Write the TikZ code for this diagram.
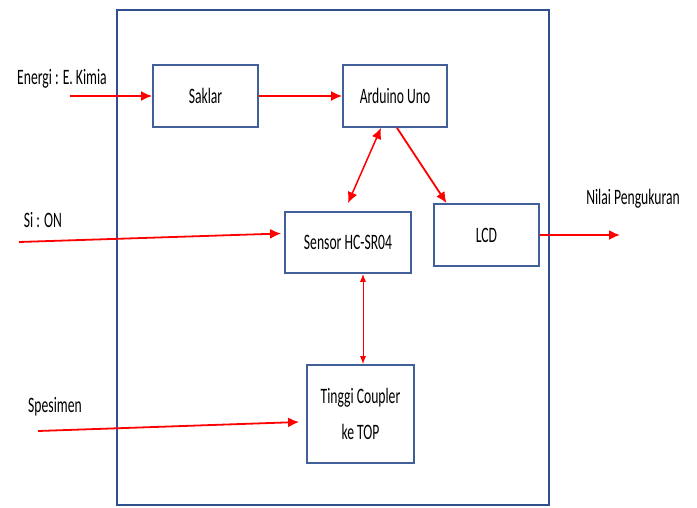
\documentclass[tikz,border=0pt]{standalone}
\usepackage{fontspec}
\setmainfont{Carlito}[FakeStretch=0.62]
\usepackage{xcolor}
\usetikzlibrary{arrows.meta,positioning}

\definecolor{boxblue}{HTML}{41609A}
\definecolor{frameblue}{HTML}{2F4F8F}

\begin{document}
\begin{tikzpicture}[
    x=1pt,y=-1pt,
    font=\fontsize{22}{26}\selectfont,
    p/.style={draw=boxblue, line width=1.8pt, align=center, inner sep=2pt,
              fill=white},
    a/.style={-{Latex[length=11pt,width=10pt]}, red, line width=1.8pt},
    aa/.style={{Latex[length=11pt,width=10pt]}-{Latex[length=11pt,width=10pt]}, red, line width=1.5pt},
    lbl/.style={inner sep=0pt}
]
\useasboundingbox (0,0) rectangle (697,507);
% outer frame
\draw[frameblue, line width=1.2pt] (117,10) rectangle (549,505);

% blocks inside the frame
\node[p, minimum width=105pt, minimum height=62pt] (saklar) at (205.5,96) {Saklar};
\node[p, minimum width=104pt, minimum height=62pt] (arduino) at (395,96) {Arduino Uno};
\node[p, minimum width=126pt, minimum height=61pt] (sensor) at (348,242.5) {Sensor HC-SR04};
\node[p, minimum width=105pt, minimum height=62pt] (lcd) at (486.5,235) {LCD};
\node[p, minimum width=107pt, minimum height=98pt] (tinggi) at (360.5,414) {Tinggi Coupler\\[10pt]ke TOP};

% inputs and output labels
\node[lbl] (energi) at (62,79) {Energi : E. Kimia};
\node[lbl] (si) at (43,220) {Si : ON};
\node[lbl] (spesimen) at (55,407) {Spesimen};
\node[lbl] (nilai) at (633,199) {Nilai Pengukuran};

\coordinate (energiin) at (70,96);
\coordinate (siin) at (19,242);
\coordinate (spesin) at (38,431);
\coordinate (nilaiout) at (620,235);

\draw[a] (energiin) -- (saklar.west);
\draw[a] (saklar) -- (arduino);
\draw[a] (siin) -- ([xshift=-3pt,yshift=9pt]sensor.west);
\draw[a] (spesin) -- ([xshift=-7pt,yshift=-8pt]tinggi.west);
\draw[aa] ([xshift=-14pt]arduino.south) -- ([yshift=8pt]sensor.north);
\draw[a] ([xshift=2pt]arduino.south) -- ([xshift=-40pt]lcd.north);
\draw[{Latex[length=8pt,width=6pt]}-{Latex[length=8pt,width=6pt]}, red, line width=0.8pt]
    ([xshift=15pt]sensor.south) -- ([xshift=15pt]sensor.south |- tinggi.north);
\draw[a] (lcd.east) -- (nilaiout);
\end{tikzpicture}
\end{document}
